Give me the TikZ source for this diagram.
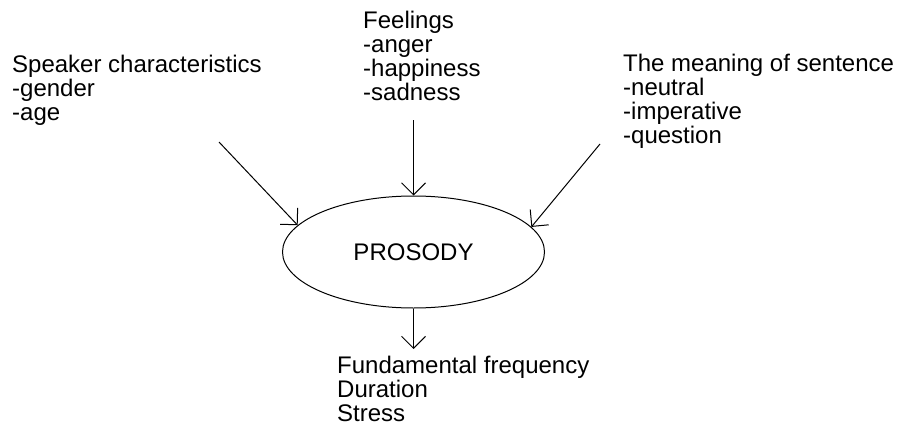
\documentclass[tikz,border=0pt]{standalone}
\usepackage{fontspec}
\setmainfont{Liberation Sans}
\usetikzlibrary{arrows.meta,shapes.geometric}
\begin{document}
\begin{tikzpicture}[x=1pt,y=-1pt,
  lbl/.style={font=\fontsize{24}{24}\selectfont, inner sep=0pt, align=left, anchor=base west},
  arr/.style={line width=1pt, -{Straight Barb[length=12pt,width=24pt]}},
  oval/.style={ellipse, draw, line width=1pt, minimum width=262pt, minimum height=112pt, inner sep=0pt, font=\fontsize{24}{24}\selectfont}]
\useasboundingbox (0,0) rectangle (904,436);
% base anchor of a multi-line node is the baseline of its last line
\node[lbl] (spk) at (12,120) {Speaker characteristics\\-gender\\-age};
\node[lbl] (feel) at (363,100) {Feelings\\-anger\\-happiness\\-sadness};
\node[lbl] (mean) at (623,143) {The meaning of sentence\\-neutral\\-imperative\\-question};
\node[oval] (p) at (413.5,252) {PROSODY};
\node[lbl] (out) at (337,421) {Fundamental frequency\\Duration\\Stress};
\coordinate (s1) at (219,142);
\coordinate (s2) at (413.5,120);
\coordinate (s3) at (600,144);
\coordinate (t) at (413.5,349);
\draw[arr] (s1) -- (p.167);
\draw[arr] (s2) -- (p.north);
\draw[arr] (s3) -- (p.12.5);
\draw[arr] (p.south) -- (t);
\end{tikzpicture}
\end{document}
